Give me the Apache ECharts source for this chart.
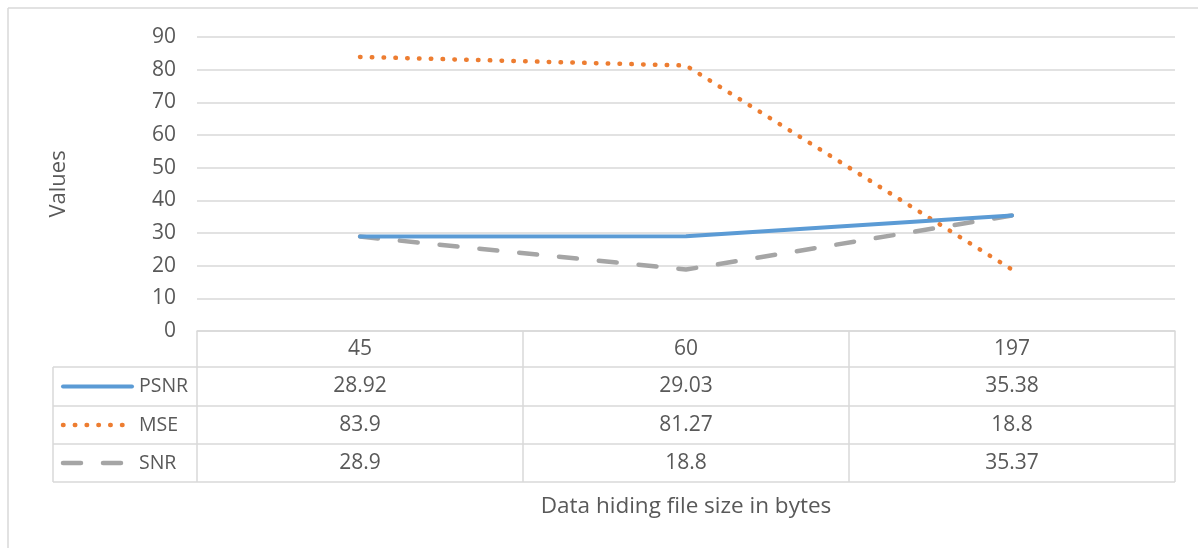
<!DOCTYPE html>
<html>
<head>
<meta charset="utf-8">
<script src="https://cdn.jsdelivr.net/npm/echarts@6/dist/echarts.min.js"></script>
<style>
html,body{margin:0;padding:0;background:#fff;}
#c{width:1198px;height:548px;}
</style>
</head>
<body>
<div id="c"></div>
<script>
const categories = ['45', '60', '197'];
const psnr = [28.92, 29.03, 35.38];
const mse = [83.9, 81.27, 18.8];
const snr = [28.9, 18.8, 35.37];
const seriesNames = ['PSNR', 'MSE', 'SNR'];
const yTicks = { min: 0, max: 90, interval: 10 };

const FONT = '"Open Sans", "Noto Sans", sans-serif';
const FS = 21;
const TXT = '#595959';
const GRID_LINE = '#d9d9d9';

const styles = [
  { color: '#5b9bd5', width: 4, type: 'solid', cap: 'round' },
  { color: '#ed7d31', width: 4.5, type: [0.5, 11.3], cap: 'round' },
  { color: '#a5a5a5', width: 4.5, type: [18, 22], cap: 'round' }
];
const values = [psnr, mse, snr];

const chart = echarts.init(document.getElementById('c'), null, { renderer: 'canvas' });

const gridL = 197, gridR = 1175, gridT = 37, gridB = 331;
const rowY = [367, 406, 444, 482];
const tableLeft = 53;

const option = {
  animation: false,
  backgroundColor: '#fff',
  textStyle: { fontFamily: FONT },
  grid: { left: gridL, right: 1198 - gridR, top: gridT, bottom: 548 - gridB, containLabel: false },
  xAxis: {
    type: 'category',
    data: categories,
    boundaryGap: true,
    axisLine: { show: true, lineStyle: { color: GRID_LINE, width: 1.5 } },
    axisTick: { show: true, length: rowY[3] - gridB, lineStyle: { color: GRID_LINE, width: 1.5 } },
    axisLabel: { color: TXT, fontSize: FS, fontFamily: FONT, margin: 8 },
    name: 'Data hiding file size in bytes',
    nameLocation: 'middle',
    nameGap: 164,
    nameTextStyle: { color: TXT, fontSize: 22.5, fontFamily: FONT }
  },
  yAxis: {
    type: 'value',
    min: yTicks.min, max: yTicks.max, interval: yTicks.interval,
    axisLine: { show: false },
    axisTick: { show: false },
    splitLine: { lineStyle: { color: GRID_LINE, width: 1.5 } },
    axisLabel: { color: TXT, fontSize: FS, fontFamily: FONT, margin: 21 },
    name: 'Values',
    nameLocation: 'middle',
    nameGap: 127,
    nameRotate: 90,
    nameTextStyle: { color: TXT, fontSize: 22, fontFamily: FONT }
  },
  series: seriesNames.map((n, i) => ({
    name: n,
    type: 'line',
    data: values[i],
    symbol: 'none',
    lineStyle: styles[i],
    z: 5 - i
  }))
};
chart.setOption(option);

// Build data table and frame
const g = [];
g.push({ type: 'line', shape: { x1: 8, y1: 8, x2: 1198, y2: 8 }, style: { stroke: GRID_LINE, lineWidth: 1.5 } });
g.push({ type: 'line', shape: { x1: 8, y1: 8, x2: 8, y2: 548 }, style: { stroke: GRID_LINE, lineWidth: 1.5 } });
rowY.forEach(y => {
  g.push({ type: 'line', shape: { x1: tableLeft, y1: y, x2: gridR, y2: y }, style: { stroke: GRID_LINE, lineWidth: 1.5 } });
});
g.push({ type: 'line', shape: { x1: tableLeft, y1: rowY[0], x2: tableLeft, y2: rowY[3] }, style: { stroke: GRID_LINE, lineWidth: 1.5 } });

seriesNames.forEach((n, i) => {
  const cy = (rowY[i] + rowY[i + 1]) / 2;
  g.push({ type: 'line', shape: { x1: 63, y1: cy, x2: 132, y2: cy },
    style: { stroke: styles[i].color, lineWidth: styles[i].width, lineDash: styles[i].type === 'solid' ? null : styles[i].type, lineCap: 'round' } });
  g.push({ type: 'text', x: 139, y: cy, style: { text: n, fill: TXT, font: '19.5px ' + FONT, textAlign: 'left', textVerticalAlign: 'middle' } });
  values[i].forEach((v, j) => {
    const px = chart.convertToPixel({ xAxisIndex: 0 }, categories[j]);
    g.push({ type: 'text', x: px, y: cy, style: { text: String(v), fill: TXT, font: FS + 'px ' + FONT, textAlign: 'center', textVerticalAlign: 'middle' } });
  });
});
chart.setOption({ graphic: { elements: g } });
</script>
</body>
</html>
